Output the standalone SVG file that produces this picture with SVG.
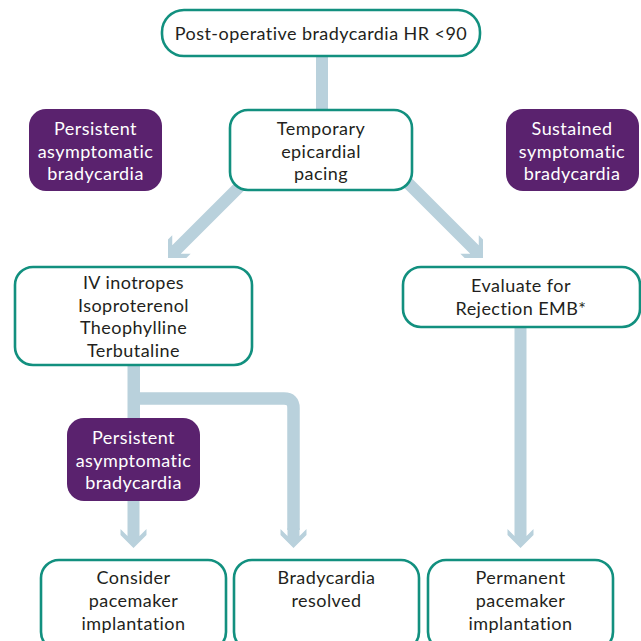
<svg xmlns="http://www.w3.org/2000/svg" width="641" height="641" viewBox="0 0 641 641">
<defs>
<style>
.box{fill:#fff;stroke:#12907f;stroke-width:2.6}
.pbox{fill:#5a226e}
.t{font-family:Lato,"Open Sans",sans-serif;font-size:18px;letter-spacing:0.45px;fill:#231f20;text-anchor:middle}
.w{fill:#fff}
.c{fill:#b9d1dc}
.cl{fill:none;stroke:#b9d1dc;stroke-width:12.5}
</style>
</defs>
<rect width="641" height="641" fill="#fff"/>
<g id="connectors" class="c">
<rect x="316" y="54" width="12" height="58"/>
<g transform="translate(168,258) rotate(45)"><path d="M-6,-108 L-6,-12 L-13,-19 L-13,-13 L0,0 L13,-13 L13,-19 L6,-12 L6,-108 Z"/></g>
<g transform="translate(483,258) rotate(-45)"><path d="M-6,-115 L-6,-12 L-13,-19 L-13,-13 L0,0 L13,-13 L13,-19 L6,-12 L6,-115 Z"/></g>
<rect x="127.5" y="362" width="12.5" height="58"/>
<path class="cl" d="M138,398.5 H284 Q293.5,398.5 293.5,408 V530"/>
<g transform="translate(293.5,548)"><path d="M-6,-20 L-6,-12 L-13,-19 L-13,-13 L0,0 L13,-13 L13,-19 L6,-12 L6,-20 Z"/></g>
<g transform="translate(133.5,548)"><path d="M-6,-50 L-6,-12 L-13,-19 L-13,-13 L0,0 L13,-13 L13,-19 L6,-12 L6,-50 Z"/></g>
<g transform="translate(520.5,548)"><path d="M-6,-224 L-6,-12 L-13,-19 L-13,-13 L0,0 L13,-13 L13,-19 L6,-12 L6,-224 Z"/></g>
</g>
<g id="n-start"><rect class="box" x="162" y="10" width="318" height="46" rx="22"/><text class="t" x="321" y="40">Post-operative bradycardia HR &lt;90</text></g>
<g id="n-persist1"><rect class="pbox" x="29" y="109" width="133" height="82" rx="17"/><text class="t w" x="95.5" y="135">Persistent</text><text class="t w" x="95.5" y="157.5">asymptomatic</text><text class="t w" x="95.5" y="180">bradycardia</text></g>
<g id="n-temp"><rect class="box" x="230" y="110" width="182" height="80" rx="18"/><text class="t" x="321" y="135">Temporary</text><text class="t" x="321" y="157.5">epicardial</text><text class="t" x="321" y="180">pacing</text></g>
<g id="n-sustained"><rect class="pbox" x="506" y="109" width="133" height="82" rx="17"/><text class="t w" x="572" y="135">Sustained</text><text class="t w" x="572" y="157.5">symptomatic</text><text class="t w" x="572" y="180">bradycardia</text></g>
<g id="n-iv"><rect class="box" x="15" y="267" width="237" height="98" rx="18"/><text class="t" x="133.5" y="289">IV inotropes</text><text class="t" x="133.5" y="311.5">Isoproterenol</text><text class="t" x="133.5" y="334">Theophylline</text><text class="t" x="133.5" y="356.5">Terbutaline</text></g>
<g id="n-eval"><rect class="box" x="403" y="267" width="237" height="60" rx="18"/><text class="t" x="521" y="292">Evaluate for</text><text class="t" x="521" y="315">Rejection EMB*</text></g>
<g id="n-persist2"><rect class="pbox" x="67" y="418" width="133" height="83" rx="17"/><text class="t w" x="133.5" y="444">Persistent</text><text class="t w" x="133.5" y="466.5">asymptomatic</text><text class="t w" x="133.5" y="489">bradycardia</text></g>
<g id="n-consider"><rect class="box" x="41" y="560" width="185" height="90" rx="18"/><text class="t" x="133.5" y="584">Consider</text><text class="t" x="133.5" y="607">pacemaker</text><text class="t" x="133.5" y="630">implantation</text></g>
<g id="n-resolved"><rect class="box" x="234" y="560" width="185" height="90" rx="18"/><text class="t" x="326.5" y="584">Bradycardia</text><text class="t" x="326.5" y="607">resolved</text></g>
<g id="n-permanent"><rect class="box" x="428" y="560" width="185" height="90" rx="18"/><text class="t" x="520.5" y="584">Permanent</text><text class="t" x="520.5" y="607">pacemaker</text><text class="t" x="520.5" y="630">implantation</text></g>
</svg>
